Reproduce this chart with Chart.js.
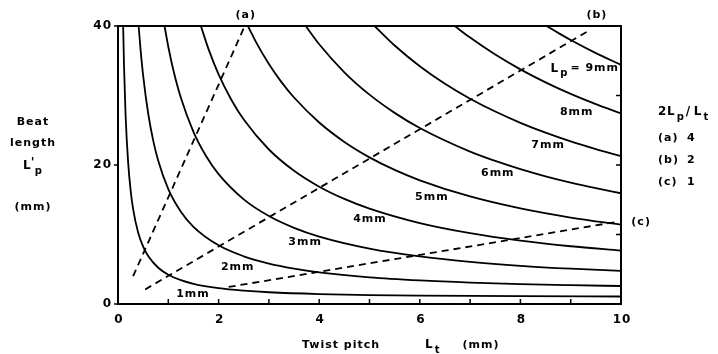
<!DOCTYPE html>
<html>
<head>
<meta charset="utf-8">
<script src="https://cdn.jsdelivr.net/npm/chart.js@4.4.1/dist/chart.umd.min.js"></script>
<style>
  html, body { margin: 0; padding: 0; background: #fff; }
  #wrap { width: 718px; height: 354px; }
</style>
</head>
<body>
<div id="wrap"><canvas id="beatChart" width="718" height="354"></canvas></div>
<script>
// Beat length L'p against twist pitch Lt, one curve per untwisted beat length Lp

const ltTicks = [0, 2, 4, 6, 8, 10];
const beatTicks = [0, 20, 40];

// [Lt (mm), L'p (mm)]
const curve1mm = [[0.1025, 40], [0.12, 34.18], [0.15, 27.35], [0.2, 20.52], [0.25, 16.43], [0.3, 13.7], [0.4, 10.3], [0.5, 8.26], [0.6, 6.91], [0.8, 5.22], [1, 4.22], [1.25, 3.43], [1.5, 2.91], [2, 2.28], [2.5, 1.92], [3, 1.69], [4, 1.43], [5, 1.29], [6, 1.21], [8, 1.12], [10, 1.08]];
const curve2mm = [[0.41, 40], [0.45, 36.5], [0.5, 32.86], [0.6, 27.41], [0.7, 23.51], [0.8, 20.6], [1, 16.52], [1.25, 13.27], [1.5, 11.11], [2, 8.44], [2.5, 6.86], [3, 5.82], [3.5, 5.1], [4, 4.56], [5, 3.84], [6, 3.39], [7, 3.08], [8, 2.86], [9, 2.71], [10, 2.59]];
const curve3mm = [[0.925, 40], [1, 37.02], [1.1, 33.67], [1.25, 29.67], [1.5, 24.78], [1.75, 21.3], [2, 18.69], [2.5, 15.06], [3, 12.66], [3.5, 10.96], [4, 9.7], [5, 7.97], [6, 6.84], [7, 6.07], [8, 5.5], [9, 5.08], [10, 4.76]];
const curve4mm = [[1.648, 40], [1.8, 36.67], [2, 33.04], [2.25, 29.43], [2.5, 26.54], [3, 22.23], [3.5, 19.17], [4, 16.88], [4.5, 15.12], [5, 13.72], [6, 11.64], [7, 10.19], [8, 9.12], [9, 8.31], [10, 7.68]];
const curve5mm = [[2.583, 40], [2.75, 37.61], [3, 34.53], [3.25, 31.93], [3.5, 29.71], [4, 26.11], [4.5, 23.32], [5, 21.1], [5.5, 19.29], [6, 17.8], [7, 15.47], [8, 13.75], [9, 12.44], [10, 11.41]];
const curve6mm = [[3.732, 40], [4, 37.38], [4.5, 33.34], [5, 30.12], [5.5, 27.5], [6, 25.32], [7, 21.92], [7.5, 20.58], [8, 19.4], [8.5, 18.37], [9, 17.46], [9.5, 16.66], [10, 15.93]];
const curve7mm = [[5.101, 40], [5.5, 37.19], [6, 34.21], [6.5, 31.69], [7, 29.54], [7.5, 27.69], [8, 26.07], [8.5, 24.65], [9, 23.39], [9.5, 22.28], [10, 21.27]];
const curve8mm = [[6.695, 40], [7, 38.33], [7.5, 35.89], [8, 33.76], [8.5, 31.89], [9, 30.23], [9.5, 28.76], [10, 27.43]];
const curve9mm = [[8.522, 40], [8.75, 39.01], [9, 37.98], [9.5, 36.1], [10, 34.41]];

// constant 2Lp/Lt lines (a) 4, (b) 2, (c) 1
const lineA = [[0.3, 4.0], [2.52, 40]];
const lineB = [[0.54, 2.1], [9.4, 39.5]];
const lineC = [[2.2, 2.45], [9.9, 11.8]];

// curve labels: text, Lt, L'p
const curveLabels = [
    ['1mm', 1.49, 1.44], ['2mm', 2.38, 5.3], ['3mm', 3.72, 8.9], ['4mm', 5.01, 12.2],
    ['5mm', 6.24, 15.4], ['6mm', 7.55, 18.8], ['7mm', 8.55, 22.9], ['8mm', 9.12, 27.6]
];
const lineLabels = [['(a)', 2.54, 41.6], ['(b)', 9.52, 41.6], ['(c)', 10.4, 11.8]];
const ratioRows = [['(a)', '4'], ['(b)', '2'], ['(c)', '1']];

const FONT = '"DejaVu Sans", sans-serif';

const toXY = (pairs) => pairs.map(p => ({ x: p[0], y: p[1] }));

function solid(pairs) {
    return { data: toXY(pairs), borderColor: '#000', borderWidth: 1.8, pointRadius: 0, cubicInterpolationMode: 'monotone', fill: false };
}
function dashed(pairs) {
    return { data: toXY(pairs), borderColor: '#000', borderWidth: 1.8, pointRadius: 0, borderDash: [7, 5], fill: false };
}

function txt(ctx, s, x, y, size, align) {
    ctx.font = `bold ${size}px ${FONT}`;
    ctx.textAlign = align || 'center';
    ctx.textBaseline = 'middle';
    ctx.fillText(s, x, y);
}

// "L" with optional prime and a lowered subscript
function lSub(ctx, x, y, sub, prime) {
    ctx.font = `bold 12px ${FONT}`;
    ctx.textAlign = 'left';
    ctx.textBaseline = 'middle';
    ctx.fillText('L', x, y);
    let w = ctx.measureText('L').width;
    if (prime) {
        ctx.fillText("'", x + w - 1, y - 3);
        w += 2;
    }
    ctx.font = `bold 10px ${FONT}`;
    ctx.fillText(sub, x + w + 1, y + 5);
    return w + 1 + ctx.measureText(sub).width;
}

const framePlugin = {
    id: 'frame',
    afterDatasetsDraw(chart) {
        const { ctx, chartArea: a, scales: { x, y } } = chart;
        ctx.save();
        ctx.fillStyle = '#000';
        ctx.strokeStyle = '#000';
        ctx.letterSpacing = '1px';

        ctx.lineWidth = 2;
        ctx.strokeRect(a.left, a.top, a.right - a.left, a.bottom - a.top);

        ctx.lineWidth = 1.5;
        ctx.beginPath();
        for (let v = 0; v <= 10; v++) {
            const px = x.getPixelForValue(v);
            ctx.moveTo(px, a.bottom);
            ctx.lineTo(px, a.bottom - 5);
        }
        [10, 20, 30].forEach(v => {
            const py = y.getPixelForValue(v);
            ctx.moveTo(a.right, py);
            ctx.lineTo(a.right - 5, py);
        });
        beatTicks.forEach(v => {
            const py = y.getPixelForValue(v);
            ctx.moveTo(a.left, py);
            ctx.lineTo(a.left - 4, py);
        });
        ctx.stroke();

        ltTicks.forEach(v => txt(ctx, String(v), x.getPixelForValue(v) + 1, a.bottom + 16, 12));
        beatTicks.forEach(v => txt(ctx, String(v), a.left - 6, y.getPixelForValue(v), 12, 'right'));

        curveLabels.forEach(([s, lt, lp]) => txt(ctx, s, x.getPixelForValue(lt), y.getPixelForValue(lp), 11));
        lineLabels.forEach(([s, lt, lp]) => txt(ctx, s, x.getPixelForValue(lt), y.getPixelForValue(lp), 11));

        // Lp = 9mm
        let lx = x.getPixelForValue(8.6);
        const ly = y.getPixelForValue(33.9);
        lx += lSub(ctx, lx, ly, 'p', false);
        txt(ctx, '= 9mm', lx + 2, ly, 11, 'left');

        // 2Lp/Lt key
        let kx = a.right + 37;
        const ky = 112;
        txt(ctx, '2', kx, ky, 12, 'left');
        kx += 9;
        kx += lSub(ctx, kx, ky, 'p', false);
        txt(ctx, '/', kx + 1, ky, 12, 'left');
        lSub(ctx, kx + 9, ky, 't', false);
        ratioRows.forEach(([k, v], i) => {
            const ry = 138 + i * 22;
            txt(ctx, k, a.right + 37, ry, 11, 'left');
            txt(ctx, v, a.right + 66, ry, 11, 'left');
        });

        // axis titles
        const ty = a.bottom + 41;
        txt(ctx, 'Twist pitch', 341, ty, 11);
        lSub(ctx, 425, ty, 't', false);
        txt(ctx, '(mm)', 481, ty, 11);

        txt(ctx, 'Beat', 33, 122, 11);
        txt(ctx, 'length', 33, 143, 11);
        lSub(ctx, 23, 166, 'p', true);
        txt(ctx, '(mm)', 33, 207, 11);

        ctx.restore();
    }
};

new Chart(document.getElementById('beatChart').getContext('2d'), {
    type: 'line',
    data: {
        datasets: [
            solid(curve1mm), solid(curve2mm), solid(curve3mm), solid(curve4mm), solid(curve5mm),
            solid(curve6mm), solid(curve7mm), solid(curve8mm), solid(curve9mm),
            dashed(lineA), dashed(lineB), dashed(lineC)
        ]
    },
    options: {
        responsive: false,
        animation: false,
        layout: { padding: { left: 118, right: 97, top: 26, bottom: 50 } },
        scales: {
            x: { type: 'linear', min: 0, max: 10, display: false },
            y: { type: 'linear', min: 0, max: 40, display: false }
        },
        plugins: { legend: { display: false }, tooltip: { enabled: false } }
    },
    plugins: [framePlugin]
});
</script>
</body>
</html>
